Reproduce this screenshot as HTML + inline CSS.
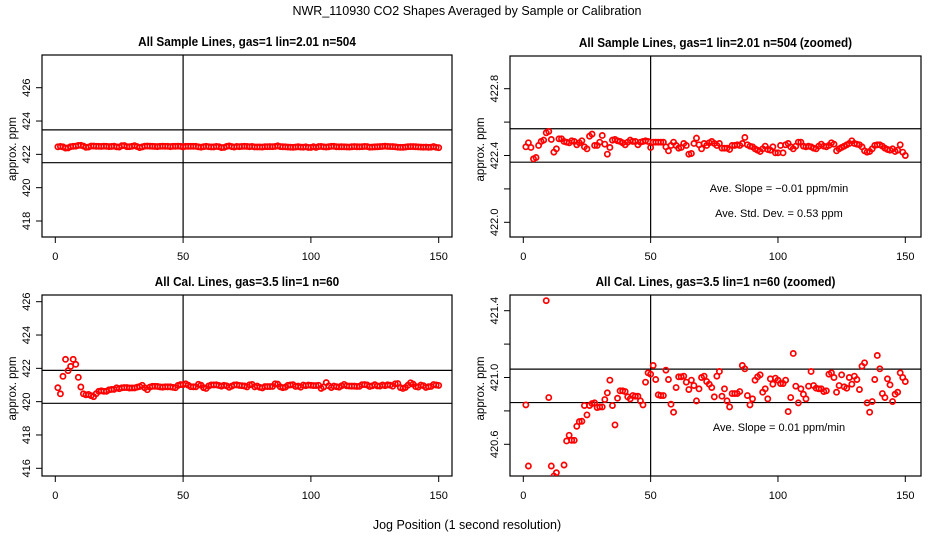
<!DOCTYPE html>
<html><head><meta charset="utf-8"><style>
html,body{margin:0;padding:0;background:#fff;}
svg{display:block;font-family:"Liberation Sans",sans-serif;}
</style></head><body>
<svg id="chart" width="936" height="540" viewBox="0 0 936 540" xmlns="http://www.w3.org/2000/svg">
<rect width="936" height="540" fill="#fff"/>
<text x="467" y="15" text-anchor="middle" font-size="12.5">NWR_110930  CO2 Shapes Averaged by Sample or Calibration</text>
<text x="467" y="529" text-anchor="middle" font-size="12.5">Jog Position (1 second resolution)</text>
</svg>
<script>
// Sample line means (ppm), jog positions 1..150
const sampleValues = [422.452,422.476,422.448,422.38,422.388,422.46,422.484,422.492,422.536,422.544,
422.496,422.42,422.44,422.5,422.5,422.484,422.48,422.476,422.488,422.484,
422.464,422.476,422.488,422.452,422.44,422.516,422.528,422.46,422.46,422.48,
422.52,422.468,422.408,422.448,422.492,422.496,422.488,422.484,422.476,422.464,
422.48,422.492,422.484,422.484,422.464,422.48,422.484,422.488,422.484,422.448,
422.48,422.48,422.48,422.48,422.48,422.452,422.428,422.46,422.48,422.46,
422.444,422.448,422.472,422.46,422.408,422.412,422.472,422.504,422.464,422.44,
422.472,422.46,422.476,422.484,422.472,422.46,422.472,422.444,422.444,422.444,
422.436,422.46,422.46,422.464,422.46,422.472,422.508,422.464,422.456,422.452,
422.44,422.432,422.424,422.44,422.456,422.436,422.432,422.452,422.416,422.416,
422.46,422.416,422.464,422.472,422.452,422.44,422.456,422.48,422.48,422.456,
422.452,422.456,422.452,422.444,422.44,422.456,422.468,422.456,422.452,422.46,
422.476,422.468,422.428,422.44,422.448,422.456,422.464,422.472,422.488,422.472,
422.468,422.464,422.452,422.428,422.42,422.424,422.44,422.46,422.464,422.464,
422.456,422.444,422.436,422.432,422.44,422.424,422.432,422.464,422.42,422.4];
// Calibration line means (ppm)
const calValues = [420.836,420.47,421.52,422.54,421.86,422.12,422.54,422.24,421.46,420.88,
420.47,420.41,420.43,420.36,420.3,420.476,420.62,420.654,420.624,420.624,
420.708,420.736,420.738,420.832,420.776,420.832,420.844,420.848,420.82,420.824,
420.824,420.868,420.908,420.984,420.832,420.716,420.876,420.92,420.92,420.916,
420.884,420.872,420.892,420.888,420.888,420.86,420.836,420.972,421.028,421.02,
421.072,420.988,420.896,420.892,420.892,421.044,420.988,420.84,420.792,420.94,
421.004,421.004,421.008,420.972,420.928,420.984,420.952,420.86,420.932,421.0,
421.008,420.976,420.96,420.94,420.884,421.008,421.036,420.888,420.932,420.86,
420.824,420.904,420.904,420.904,420.916,421.072,421.052,420.892,420.836,420.872,
420.984,421.004,421.016,420.912,420.932,420.872,420.992,420.96,420.996,420.984,
420.964,420.964,420.984,420.796,420.88,421.144,420.948,420.848,420.932,420.9,
420.872,420.948,421.036,420.952,420.936,420.932,420.932,420.916,420.92,421.02,
421.028,421.0,420.912,420.952,421.016,420.944,420.936,421.0,420.96,421.008,
420.988,420.928,421.068,421.088,420.848,420.792,420.856,420.988,421.132,421.052,
420.904,420.88,420.992,420.956,420.856,420.9,420.912,421.028,421.0,420.976];
const xTicks = [0,50,100,150];
const p1YTicks = [418,420,422,424,426];
const p2YTicks = [422.0,422.2,422.4,422.6,422.8];
const p2YLabels = ["422.0","","422.4","","422.8"];
const p3YTicks = [416,418,420,422,424,426];
const p4YTicks = [420.6,420.8,421.0,421.2,421.4];
const p4YLabels = ["420.6","","421.0","","421.4"];
const p1HLines = [421.5,423.47];
const p2HLines = [422.36,422.56];
const p3HLines = [419.9,421.88];
const p4HLines = [420.85,421.05];
const vLineX = 50;

const NS="http://www.w3.org/2000/svg";
const svg=document.getElementById('chart');
function mk(tag,attrs,parent){const e=document.createElementNS(NS,tag);for(const k in attrs)e.setAttribute(k,attrs[k]);(parent||svg).appendChild(e);return e;}

function panel(cfg){
  const g=mk('g',{});
  
  
  const xs=v=>cfg.x0+(v-0)*(cfg.x150-cfg.x0)/150;
  const ys=v=>cfg.ya+(v-cfg.va)*(cfg.yb-cfg.ya)/(cfg.vb-cfg.va);
  const t=mk('text',{x:0,y:0,'text-anchor':'middle','font-size':'12.5','font-weight':'bold',transform:`translate(${(cfg.L+cfg.R)/2},${cfg.T-9}) scale(0.94,1)`},g);
  t.textContent=cfg.title;
  
  
  const cid=cfg.name+'-clip';
  const cp=mk('clipPath',{id:cid},g);
  mk('rect',{x:cfg.L,y:cfg.T,width:cfg.R-cfg.L,height:cfg.B-cfg.T},cp);
  const box=mk('rect',{x:cfg.L,y:cfg.T,width:cfg.R-cfg.L,height:cfg.B-cfg.T,fill:'none',stroke:'#000','stroke-width':'1.2'},g);
  
  
  xTicks.forEach(v=>{
    const x=xs(v);
    mk('line',{x1:x,x2:x,y1:cfg.B,y2:cfg.B+6,stroke:'#000'},g);
    const l=mk('text',{x:x,y:cfg.B+23,'text-anchor':'middle','font-size':'11'},g);
    l.textContent=v;
    
    
  });
  cfg.yTicks.forEach((v,i)=>{
    const y=ys(v);
    mk('line',{x1:cfg.L-6,x2:cfg.L,y1:y,y2:y,stroke:'#000'},g);
    const s=cfg.yLabels?cfg.yLabels[i]:String(v);
    if(s){
      const l=mk('text',{x:0,y:0,'text-anchor':'middle','font-size':'11',transform:`translate(${cfg.L-12},${y}) rotate(-90)`},g);
      l.textContent=s;
      
      
    }
  });
  const yt=mk('text',{x:0,y:0,'text-anchor':'middle','font-size':'11.5',transform:`translate(${cfg.L-26},${(cfg.T+cfg.B)/2+3}) rotate(-90)`},g);
  yt.textContent='approx. ppm';
  
  
  const vx=xs(vLineX);
  const vl=mk('line',{x1:vx,x2:vx,y1:cfg.T,y2:cfg.B,stroke:'#000','stroke-width':'1.2'},g);
  
  
  cfg.hLines.forEach(v=>{
    const hl=mk('line',{x1:cfg.L,x2:cfg.R,y1:ys(v),y2:ys(v),stroke:'#000','stroke-width':'1.2'},g);
    
    
  });
  const pg=mk('g',{'clip-path':`url(#${cid})`},g);
  cfg.data.forEach((v,i)=>{
    const c=mk('circle',{cx:xs(i+1),cy:ys(v),r:'2.6',fill:'none',stroke:'#f00','stroke-width':'1.7'},pg);
    
    
  });
  (cfg.notes||[]).forEach(n=>{
    const l=mk('text',{x:n[0],y:n[1],'text-anchor':'middle','font-size':'11'},g);
    l.textContent=n[2];
    
    
  });
}
panel({name:'panel-sample',title:'All Sample Lines, gas=1 lin=2.01 n=504',L:42,R:452,T:55,B:237,x0:55.3,x150:438.7,va:426,ya:87.7,vb:418,yb:221,yTicks:p1YTicks,hLines:p1HLines,data:sampleValues});
panel({name:'panel-sample-zoomed',title:'All Sample Lines, gas=1 lin=2.01 n=504 (zoomed)',L:510,R:921,T:56,B:237,x0:523.3,x150:905.3,va:422.8,ya:88.7,vb:422.0,yb:222.3,yTicks:p2YTicks,yLabels:p2YLabels,hLines:p2HLines,data:sampleValues,
  notes:[[779,192,'Ave. Slope =  \u22120.01  ppm/min'],[779,217,'Ave. Std. Dev. =  0.53  ppm']]});
panel({name:'panel-cal',title:'All Cal. Lines, gas=3.5 lin=1 n=60',L:42,R:452,T:295,B:476,x0:55.3,x150:438.7,va:426,ya:301.7,vb:416,yb:468.3,yTicks:p3YTicks,hLines:p3HLines,data:calValues});
panel({name:'panel-cal-zoomed',title:'All Cal. Lines, gas=3.5 lin=1 n=60 (zoomed)',L:510,R:921,T:295,B:476,x0:523.3,x150:905.3,va:421.4,ya:310.7,vb:420.6,yb:444.3,yTicks:p4YTicks,yLabels:p4YLabels,hLines:p4HLines,data:calValues,
  notes:[[779,431,'Ave. Slope =  0.01  ppm/min']]});
</script>
</body></html>
